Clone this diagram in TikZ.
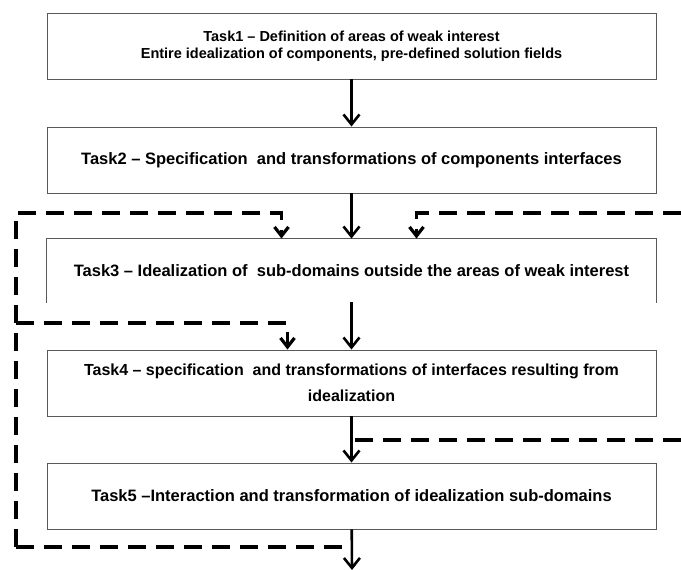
\documentclass[tikz,border=0pt]{standalone}
\usepackage{fontspec}
\setmainfont{Liberation Sans}
\usepackage{tikz}
\usetikzlibrary{arrows.meta}

\begin{document}
\begin{tikzpicture}[x=1pt,y=-1pt,
  task/.style={draw=black!65,line width=0.9pt,minimum width=609,minimum height=66,align=center,font=\fontsize{16.5}{19}\selectfont\bfseries},
  arr/.style={-{Straight Barb[length=10pt,width=16pt]},line width=2.6pt},
  loop/.style={line width=3.2pt,dash pattern=on 18pt off 10pt},
  looparr/.style={loop,-{Straight Barb[length=9pt,width=14pt]}}]
  \useasboundingbox (0,0) rectangle (681,570);

  % Tasks
  \node[task,font=\fontsize{14.5}{17}\selectfont\bfseries] (task1) at (351.5,46) {Task1 -- Definition of areas of weak interest\\Entire idealization of components, pre-defined solution fields};
  \node[task] (task2) at (351.5,160) {Task2 -- Specification\ \ and transformations of components interfaces};
  \node[task,draw=none,minimum height=64] (task3) at (351.5,271) {Task3 -- Idealization of\ \ sub-domains outside the areas of weak interest};
  \draw[black!65,line width=0.9pt] (task3.south west)--(task3.north west)--(task3.north east)--(task3.south east);
  \node[task,font=\fontsize{16}{26}\selectfont\bfseries] (task4) at (351.5,383) {Task4 -- specification\ \ and transformations of interfaces resulting from\\idealization};
  \node[task] (task5) at (351.5,496) {Task5 --Interaction and transformation of idealization sub-domains};
  \coordinate (out) at (352,570);

  % Main flow
  \draw[arr] (task1)--(task2);
  \draw[arr] (task2)--(task3);
  \draw[arr] ([yshift=1]task3.south)--(task4);
  \draw[arr] (task4)--(task5);
  \draw[arr] (task5)--(out);

  % Loops
  \coordinate (lcorner) at (16,213);
  \coordinate (lbottom) at (16,547);
  \coordinate (lmid) at (16,323);
  \coordinate (rtop) at (681,213);
  \coordinate (rmid) at (681,440);
  \draw[looparr] (lbottom)--(lcorner)-|([xshift=-70]task3.north);
  \draw[looparr] (rtop)-|([xshift=65]task3.north);
  \draw[looparr] (lmid)-|([xshift=-64]task4.north);
  \draw[loop] (rmid)--(rmid-|task4.south);
  \draw[loop] (lbottom)--(lbottom-|task5.south);

\end{tikzpicture}
\end{document}
